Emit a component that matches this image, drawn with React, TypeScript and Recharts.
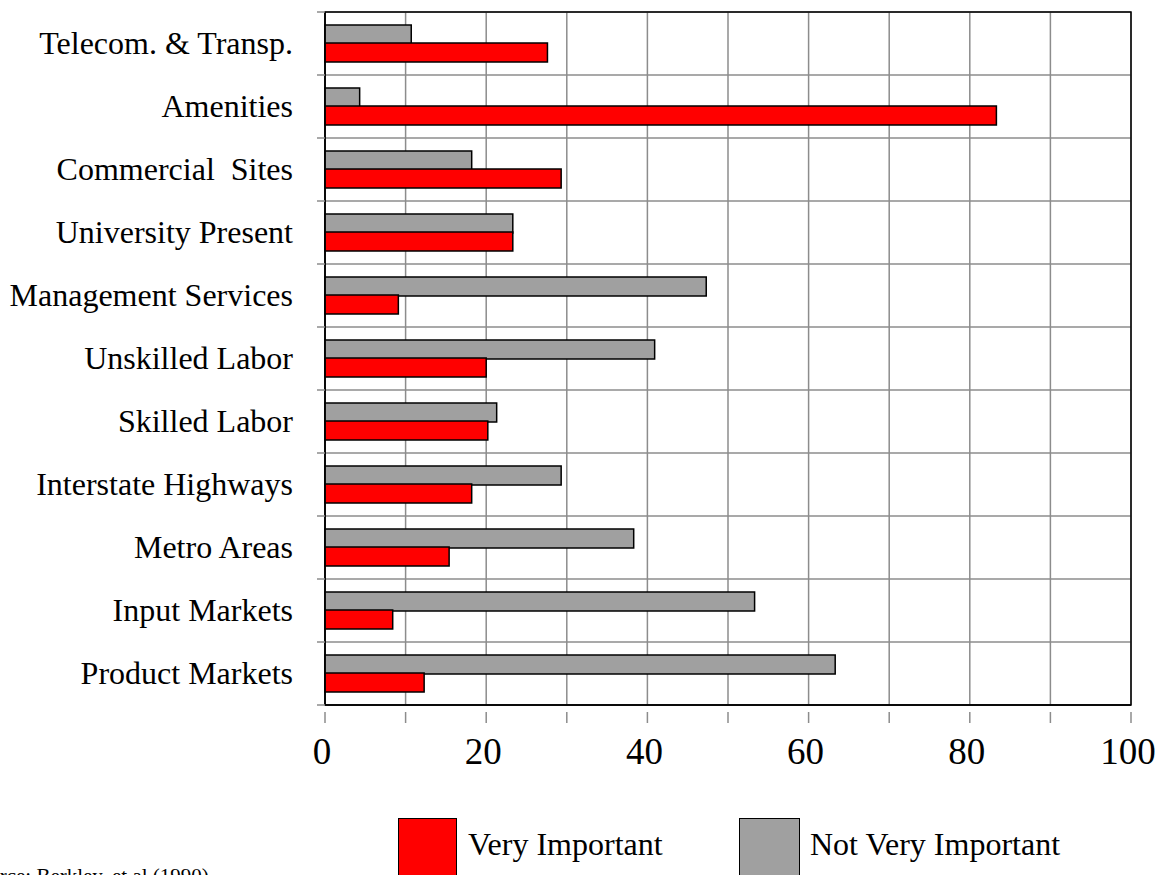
import React from "react";
import { BarChart, Bar, XAxis, YAxis, CartesianGrid, ReferenceArea } from "recharts";

const categories = [
  "Telecom. & Transp.",
  "Amenities",
  "Commercial  Sites",
  "University Present",
  "Management Services",
  "Unskilled Labor",
  "Skilled Labor",
  "Interstate Highways",
  "Metro Areas",
  "Input Markets",
  "Product Markets",
];
const veryImportant = [27.6, 83.3, 29.3, 23.3, 9.1, 20.0, 20.2, 18.2, 15.4, 8.4, 12.3];
const notVeryImportant = [10.7, 4.3, 18.2, 23.3, 47.3, 40.9, 21.3, 29.3, 38.3, 53.3, 63.3];
const xTicks = [0, 10, 20, 30, 40, 50, 60, 70, 80, 90, 100];
const xLabelEvery = 20;
const seriesNames = ["Very Important", "Not Very Important"];
const sourceNote = "Source: Berkley, et al (1990)";

const data = categories.map((name, i) => ({
  name,
  very: veryImportant[i],
  notVery: notVeryImportant[i],
}));

const W = 1157;
const H = 875;
const M_TOP = 12;
const M_RIGHT = 26;
const Y_AXIS_W = 325;
const X_AXIS_H = 70;
const M_BOTTOM = 100;
const PLOT_H = H - M_TOP - M_BOTTOM - X_AXIS_H;
const BAND = PLOT_H / categories.length;
const FONT = "'Liberation Serif', 'Times New Roman', serif";
const GRID = "#8c8c8c";
const RED = "#ff0000";
const GRAY = "#a0a0a0";

const YTick = (props: any) => {
  const { y, payload, index } = props;
  const top = y - BAND / 2;
  return (
    <g>
      <line x1={317} x2={Y_AXIS_W} y1={top} y2={top} stroke={GRID} strokeWidth={1.5} />
      {index === categories.length - 1 ? (
        <line x1={317} x2={Y_AXIS_W} y1={top + BAND} y2={top + BAND} stroke={GRID} strokeWidth={1.5} />
      ) : null}
      <text x={293} y={y + 10.5} textAnchor="end" fontFamily={FONT} fontSize={32} fill="#000" style={{ whiteSpace: "pre" }}>
        {payload.value}
      </text>
    </g>
  );
};

const XTick = (props: any) => {
  const { x, y, payload } = props;
  const v = payload.value;
  return (
    <g>
      <line x1={x} x2={x} y1={y - 1} y2={y + 10} stroke={GRID} strokeWidth={1.5} />
      {v % xLabelEvery === 0 ? (
        <text x={x - 3} y={y + 51} textAnchor="middle" fontFamily={FONT} fontSize={37} fill="#000">
          {v}
        </text>
      ) : null}
    </g>
  );
};

export default function App() {
  return (
    <div
      style={{
        position: "absolute",
        left: 0,
        top: 0,
        width: W,
        height: H,
        overflow: "hidden",
        background: "#fff",
      }}
    >
      <BarChart
        width={W}
        height={H}
        data={data}
        layout="vertical"
        margin={{ top: M_TOP, right: M_RIGHT, bottom: M_BOTTOM, left: 0 }}
        barSize={19}
        barGap={-1}
      >
        <CartesianGrid
          stroke={GRID}
          strokeWidth={1.5}
          horizontalCoordinatesGenerator={({ offset }: any) =>
            categories.map((_, i) => offset.top + (i * offset.height) / categories.length).concat([offset.top + offset.height])
          }
          verticalCoordinatesGenerator={({ offset }: any) =>
            xTicks.map((t) => offset.left + (t / 100) * offset.width)
          }
        />
        <ReferenceArea x1={0} x2={100} fill="none" fillOpacity={0} stroke="#000" strokeWidth={1.5} ifOverflow="visible" />
        <XAxis
          type="number"
          domain={[0, 100]}
          ticks={xTicks}
          interval={0}
          height={X_AXIS_H}
          axisLine={{ stroke: "#000", strokeWidth: 1.5 }}
          tickLine={false}
          tick={<XTick />}
        />
        <YAxis
          type="category"
          dataKey="name"
          width={Y_AXIS_W}
          interval={0}
          axisLine={{ stroke: "#000", strokeWidth: 1.5 }}
          tickLine={false}
          tick={<YTick />}
        />
        <Bar dataKey="notVery" name={seriesNames[1]} fill={GRAY} stroke="#000" strokeWidth={1.5} isAnimationActive={false} />
        <Bar dataKey="very" name={seriesNames[0]} fill={RED} stroke="#000" strokeWidth={1.5} isAnimationActive={false} />
      </BarChart>

      {/* Legend */}
      <div style={{ position: "absolute", left: 398, top: 818, width: 59, height: 70, background: RED, border: "1.5px solid #000", boxSizing: "border-box" }} />
      <div style={{ position: "absolute", left: 468, top: 826, fontFamily: FONT, fontSize: 32, lineHeight: "36px", color: "#000", whiteSpace: "nowrap" }}>
        {seriesNames[0]}
      </div>
      <div style={{ position: "absolute", left: 739, top: 818, width: 61, height: 70, background: GRAY, border: "1.5px solid #000", boxSizing: "border-box" }} />
      <div style={{ position: "absolute", left: 810, top: 826, fontFamily: FONT, fontSize: 32, lineHeight: "36px", color: "#000", whiteSpace: "nowrap" }}>
        {seriesNames[1]}
      </div>

      {/* Source note (cut off by the page edge, as in the reference) */}
      <div style={{ position: "absolute", left: -33, top: 864, fontFamily: FONT, fontSize: 21, lineHeight: "24px", color: "#000", whiteSpace: "nowrap" }}>
        {sourceNote}
      </div>
    </div>
  );
}
